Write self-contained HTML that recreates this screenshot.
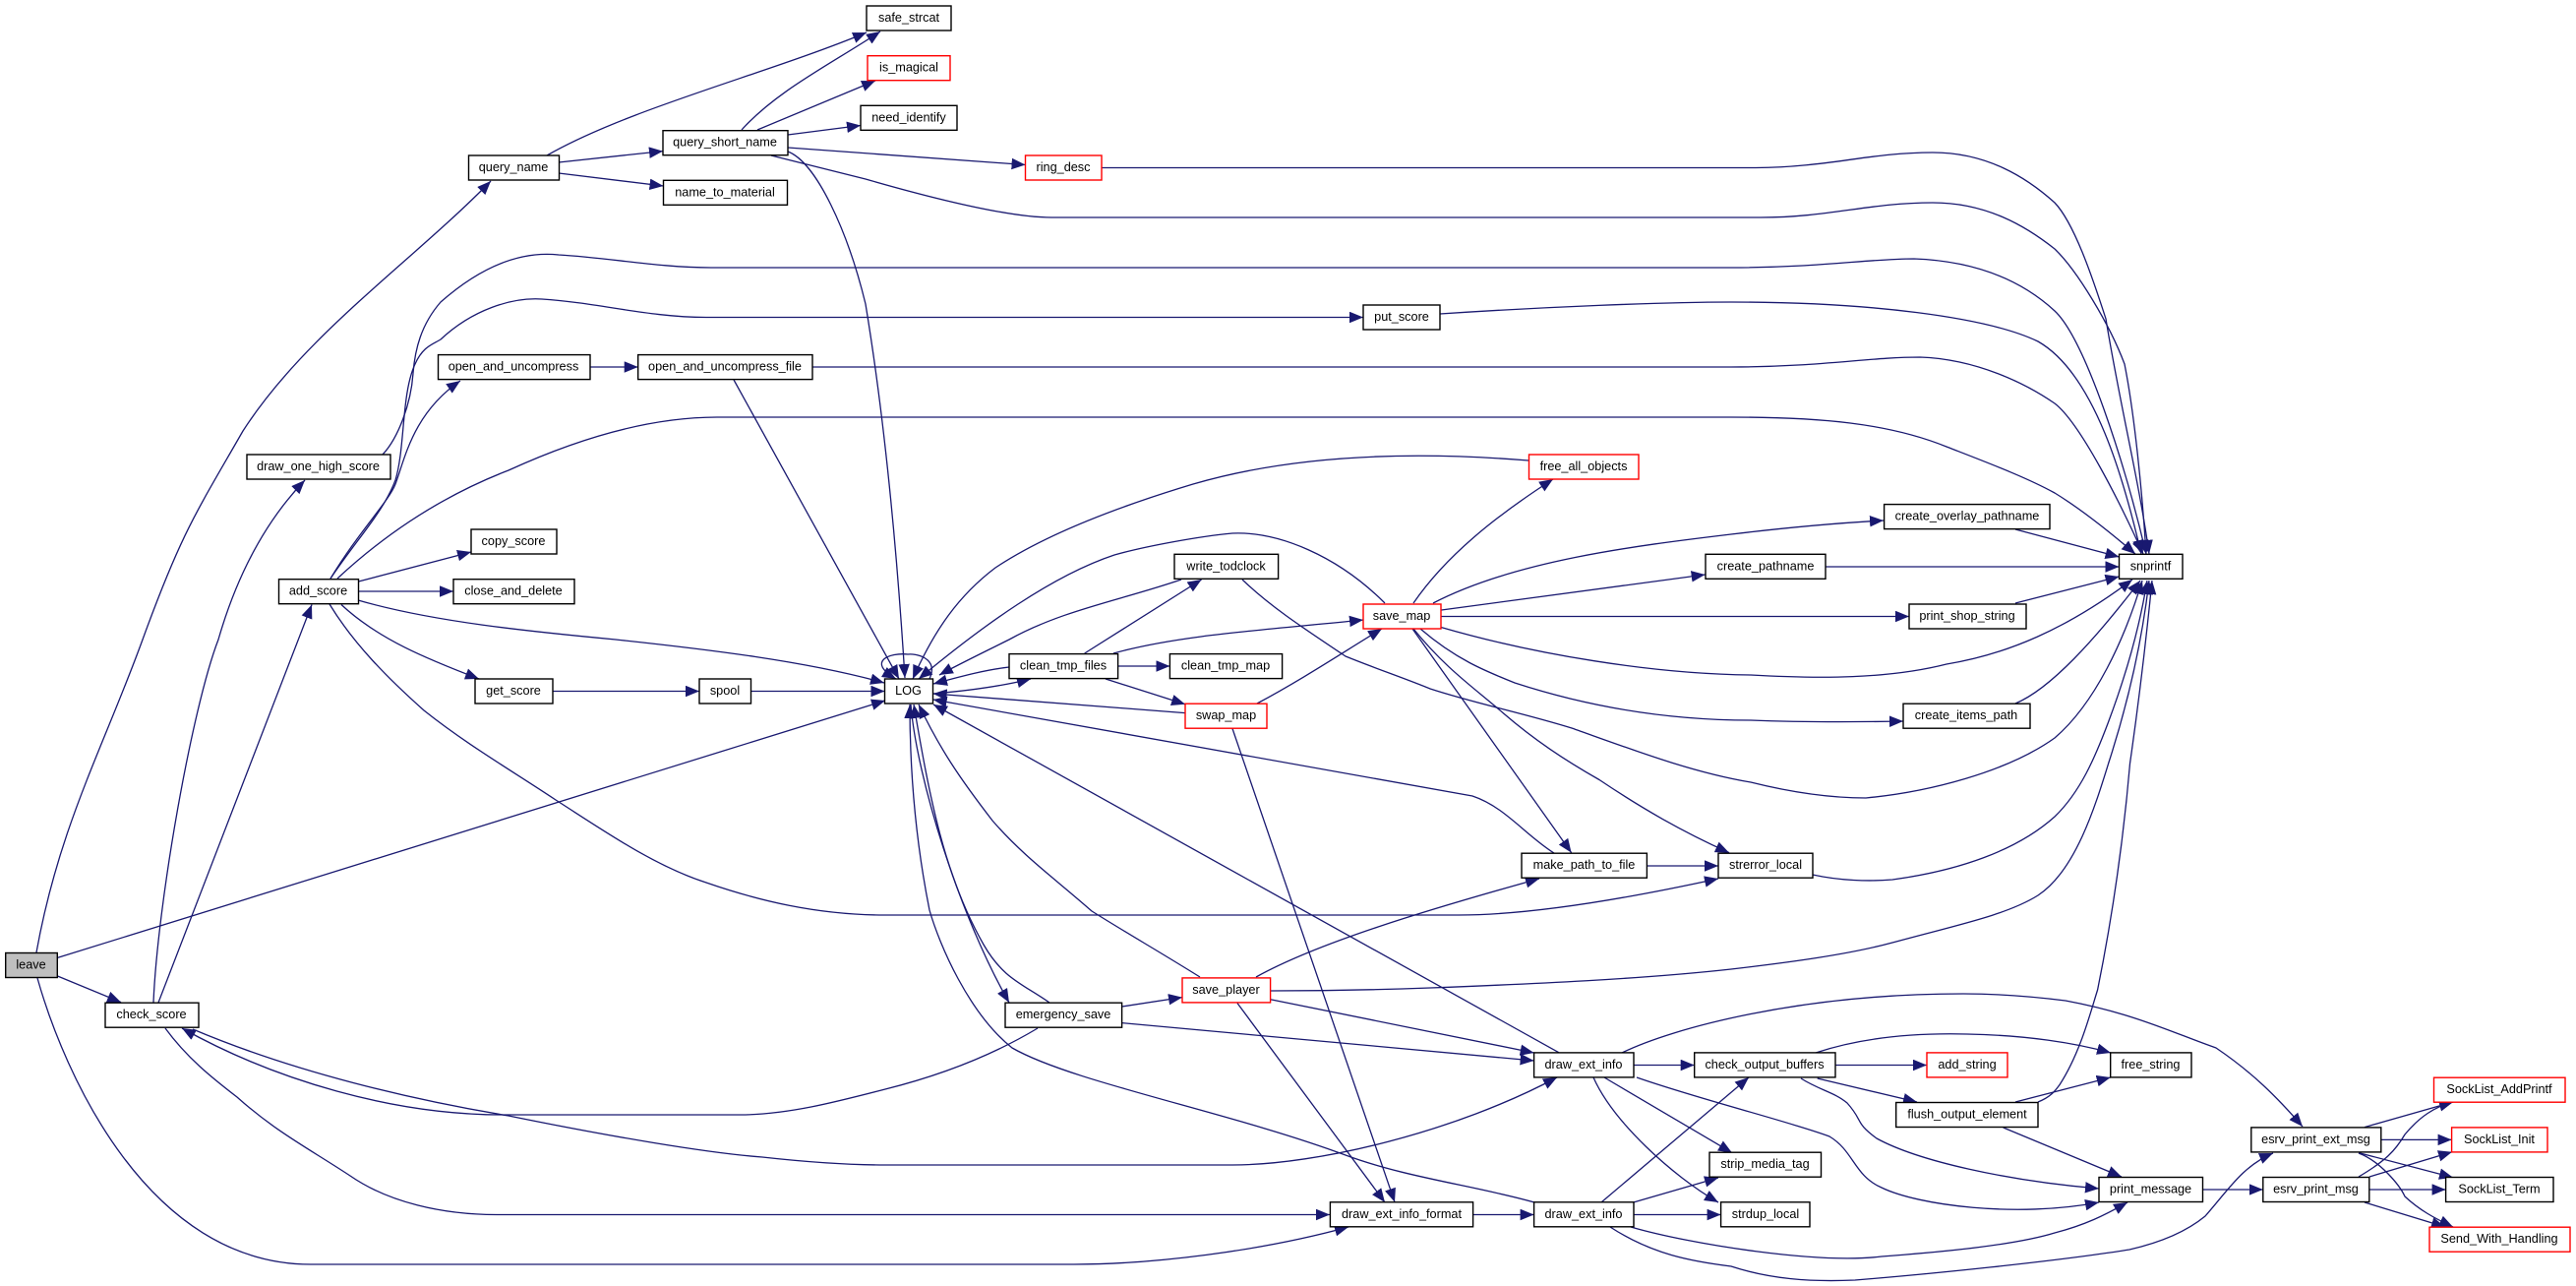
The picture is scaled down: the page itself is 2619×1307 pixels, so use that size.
<!DOCTYPE html>
<html><head><meta charset="utf-8"><style>html,body{margin:0;padding:0;background:#fff}svg{display:block;filter:blur(.3px)}</style></head>
<body>
<svg xmlns="http://www.w3.org/2000/svg" width="2619" height="1307" viewBox="0 0 2619 1307">
<defs><marker id="a" markerUnits="userSpaceOnUse" markerWidth="15" markerHeight="13" refX="14" refY="5.75" orient="auto"><path d="M0,0L14,5.75L0,11.5z" fill="#191970"/></marker></defs>
<g fill="none" stroke="#191970" stroke-width="1.3" marker-end="url(#a)">
<path d="M37,968C60,840 105,760 145,650S200,520 247,438C310,340 420,265 499,184"/>
<path d="M556,158C640,110 780,75 881,33"/>
<path d="M568,165L674,153.6"/>
<path d="M568,176L674.5,189"/>
<path d="M754,132C790,92 845,65 895,32"/>
<path d="M770,132L890,82"/>
<path d="M801,137L875,127.5"/>
<path d="M801,150L1042.5,167.5"/>
<path d="M784,158L880,182C960,205 1030,221 1069,221L1790,221C1860,221 1900,206 1965,206C2020,206 2060,230 2089,253C2112,275 2145,330 2160,370C2170,420 2178,500 2182,563"/>
<path d="M1120,170.5L1785,170.5C1860,170 1900,155 1965,155C2020,155 2060,180 2089,206C2110,228 2130,290 2141,324C2155,410 2175,490 2185,563"/>
<path d="M801,154C830,165 862,235 880,309C900,430 912,560 920,689"/>
<path d="M156,1019C160,920 195,720 222,650C235,605 260,540 310,488"/>
<path d="M389,462C405,445 418,410 420,379C422,355 428,330 448,307C490,270 530,255 568,259C620,262 670,272 723,272L1760,272C1850,272 1900,263 1946,263C2000,265 2050,280 2089,316C2120,345 2160,470 2182,563"/>
<path d="M336,588C365,545 390,520 402,488C412,455 408,400 422,370C430,352 440,350 448,345C480,315 520,302 551,304C610,308 660,322.5 718,322.5L1386,322.5"/>
<path d="M336,588C365,540 395,510 402,492C412,465 420,420 468,387"/>
<path d="M343,588C400,535 460,500 517,478C600,440 670,424 729,424L1760,424C1850,424 1920,430 1979,454C2020,470 2060,485 2089,501C2120,520 2150,545 2171,563"/>
<path d="M364.5,591L479,561"/>
<path d="M364.5,601L461,601"/>
<path d="M364,610C440,632 540,642 626,650C720,660 820,672 899,694"/>
<path d="M347,614.5C385,650 435,670 487,690"/>
<path d="M335,614C360,655 395,690 431,722C475,757 520,783 565,813C615,845 665,880 718,897C770,915 830,930 900,930L1483,930C1560,930 1660,912 1747,893"/>
<path d="M58.5,973.4L900,712"/>
<path d="M58.5,992L123,1018.6"/>
<path d="M161,1019L317,614.5"/>
<path d="M196,1046C300,1090 420,1118 517,1134C620,1155 720,1172 775,1176C820,1181 860,1184 900,1184L1253,1184C1340,1184 1480,1150 1583,1095"/>
<path d="M1055,1045C1010,1072 960,1092 900,1107C850,1120 800,1133 752,1133L511,1133C400,1133 280,1098 185,1045"/>
<path d="M168,1045C190,1075 215,1095 241,1115C280,1150 315,1168 356,1195C395,1222 450,1234.5 505,1234.5L1352,1234.5"/>
<path d="M38,994C65,1090 150,1285 316,1285L1092,1285C1170,1285 1280,1272 1371,1247"/>
<path d="M600,373L648.7,373"/>
<path d="M826,373L1760,373C1850,373 1900,363 1952,363C2010,365 2060,390 2089,410C2115,430 2155,510 2179,563"/>
<path d="M746,386L914,690"/>
<path d="M1464,319C1570,312 1690,307 1760,307C1900,307 2020,322 2072,347C2130,380 2160,490 2177,563"/>
<path d="M2049,538L2154.5,566"/>
<path d="M1856,576L2154.5,576"/>
<path d="M2049,613L2154.5,586"/>
<path d="M2049,715C2085,700 2130,650 2176,590"/>
<path d="M1408,613C1360,565 1300,540 1253,542C1220,545 1165,555 1133,564C1070,585 1000,635 934,690"/>
<path d="M1437,613C1470,565 1520,525 1579,487"/>
<path d="M1554,468C1480,462 1340,455 1213,492C1130,517 1060,545 1012,577C975,605 950,640 928,690"/>
<path d="M1457,613C1540,570 1660,555 1760,543C1810,537 1860,532 1915,529"/>
<path d="M1465.5,620L1733.6,584"/>
<path d="M1465,626.5L1941,626.5"/>
<path d="M1444,639C1480,670 1510,682 1540,694C1620,720 1700,732 1780,732C1830,734 1880,734 1935,733"/>
<path d="M1465.5,637.6C1560,665 1680,685 1780,686C1850,690 1920,690 1979,675C2040,665 2100,640 2168,589"/>
<path d="M1263,589C1290,615 1320,635 1368,667C1400,680 1430,690 1454,700C1500,715 1550,725 1598,740C1660,762 1720,785 1780,795C1820,805 1860,811 1897,811C1960,805 2040,785 2089,750C2130,715 2160,650 2178,590"/>
<path d="M1843,889C1870,895 1900,896 1924,894C1990,885 2050,865 2089,830C2115,805 2130,770 2143.5,734C2160,690 2175,640 2183,590"/>
<path d="M1291.6,1007C1350,1007 1400,1006 1454,1004C1560,1000 1670,995 1760,985C1820,978 1880,970 1924,958C1990,940 2040,930 2072,910C2110,885 2130,820 2143.6,776C2165,710 2178,650 2185,590"/>
<path d="M2072,1120C2085,1115 2090,1108 2094,1102.5C2115,1070 2125,1030 2132.6,1006C2150,920 2160,840 2165.5,776C2175,710 2182,650 2188,590"/>
<path d="M1436,639L1597.6,866.6"/>
<path d="M1437,639C1470,680 1500,700 1528.6,725C1560,752 1590,772 1626,792.5C1670,822 1710,845 1758,866.6"/>
<path d="M1278,715C1325,690 1370,660 1405,639"/>
<path d="M1132,664C1200,645 1290,640 1386,630"/>
<path d="M1102.7,664L1221.6,589"/>
<path d="M1201,589C1140,610 1080,620 1026,650C1000,663 975,675 955,686"/>
<path d="M1026,678C1000,681 975,688 949,695"/>
<path d="M949,705C985,702 1020,697 1048,690"/>
<path d="M1136.6,677L1189.4,677"/>
<path d="M1124,690L1205,715.8"/>
<path d="M1205,724.6L948.7,705"/>
<path d="M1253,740.5L1418,1221.8"/>
<path d="M1580,867C1550,848 1530,820 1497,809L948.7,711"/>
<path d="M1674.4,880L1747,880"/>
<path d="M1277,993C1340,958 1450,925 1565,893"/>
<path d="M1220,993C1180,968 1145,948 1110,926C1075,895 1040,870 1009,834C975,790 955,760 934,716"/>
<path d="M1291.6,1015.7L1559.6,1070"/>
<path d="M1258,1019.5L1408,1222"/>
<path d="M1140.6,1023L1202,1013.6"/>
<path d="M1140.6,1039.6L1559.6,1078"/>
<path d="M1067,1019C1040,1000 1020,995 1000,960C960,890 945,810 929,716"/>
<path d="M926,716C932,790 975,930 1026,1019"/>
<path d="M1585,1069.8L949,716"/>
<path d="M1560,1222C1500,1205 1430,1197 1368,1174C1250,1130 1090,1100 1029,1065C985,1030 955,960 945,925C930,850 925,780 925,716"/>
<path d="M1497.6,1234.5L1559.6,1234.5"/>
<path d="M1661,1082.5L1722.7,1082.5"/>
<path d="M1649,1070C1700,1045 1830,1010 1996,1010C2030,1010 2060,1012 2100,1017C2170,1030 2210,1050 2253,1065C2290,1090 2315,1115 2341,1145"/>
<path d="M1664,1095C1730,1118 1820,1140 1860,1155C1885,1170 1885,1195 1913,1207C1950,1225 2050,1238 2134,1222"/>
<path d="M1631,1095L1761,1171.6"/>
<path d="M1620,1095C1640,1140 1700,1195 1747,1222"/>
<path d="M1628,1222L1778,1095"/>
<path d="M1660.7,1222L1747,1197"/>
<path d="M1661,1234.5L1749.6,1234.5"/>
<path d="M1658,1247C1720,1265 1850,1285 1913,1277C1980,1272 2050,1265 2089,1253C2120,1245 2140,1235 2163,1222"/>
<path d="M1637,1247C1680,1275 1720,1282 1760,1287C1800,1300 1840,1303 1886,1301C1960,1295 2090,1282 2165,1270C2200,1262 2225,1250 2242,1236C2265,1210 2280,1185 2311,1172"/>
<path d="M1846,1070C1900,1052 1960,1050 2000,1051C2060,1052 2110,1060 2146,1070"/>
<path d="M1866,1082.5L1959,1082.5"/>
<path d="M1847.7,1096L1949,1120"/>
<path d="M1831,1096C1850,1108 1865,1110 1878,1121C1895,1140 1885,1140 1908,1157C1950,1180 2040,1200 2134,1208"/>
<path d="M2049,1120L2145.7,1095"/>
<path d="M2036.7,1146L2157,1196"/>
<path d="M2239.5,1209L2300.8,1209"/>
<path d="M2404,1145.6L2494,1120"/>
<path d="M2420.8,1158.4L2492.6,1158.4"/>
<path d="M2398,1171.6L2494,1196.7"/>
<path d="M2398,1172C2420,1180 2440,1205 2445,1216C2460,1230 2475,1238 2494,1247"/>
<path d="M2398,1196C2425,1180 2435,1170 2445,1153C2460,1135 2475,1125 2494,1120"/>
<path d="M2409,1196L2493,1170.7"/>
<path d="M2408.8,1209L2486.6,1209"/>
<path d="M2404,1222L2486,1247"/>
<path d="M945,690C955,668 930,664 923,665C905,663 880,672 911,690"/>
<path d="M562,702.5L711,702.5"/>
<path d="M763.5,702.5L899.5,702.5"/>
</g>
<g fill="#fff" stroke="#000" stroke-width="1.4">
<rect x="476.5" y="158" width="92" height="25"/>
<rect x="674" y="132.7" width="127" height="25"/>
<rect x="674.5" y="183.3" width="126" height="25"/>
<rect x="881" y="6" width="86" height="25"/>
<rect x="875" y="107.3" width="98" height="25"/>
<rect x="1386" y="310" width="78" height="25"/>
<rect x="445.5" y="360.6" width="154.5" height="25"/>
<rect x="648.7" y="360.6" width="177.3" height="25"/>
<rect x="251" y="462" width="146" height="25"/>
<rect x="479" y="538" width="87" height="25"/>
<rect x="1915.6" y="512.6" width="168.4" height="25"/>
<rect x="1194" y="563.3" width="105.6" height="25"/>
<rect x="1734" y="563.3" width="122" height="25"/>
<rect x="2154.5" y="563.3" width="64.5" height="25"/>
<rect x="283.5" y="588.7" width="81" height="25"/>
<rect x="461" y="588.7" width="123" height="25"/>
<rect x="1941" y="614" width="119" height="25"/>
<rect x="1026" y="664.6" width="110.6" height="25"/>
<rect x="1189.4" y="664.6" width="114.2" height="25"/>
<rect x="483" y="690" width="79" height="25"/>
<rect x="711" y="690" width="52.5" height="25"/>
<rect x="899.5" y="690" width="49" height="25"/>
<rect x="1935" y="715.2" width="129" height="25"/>
<rect x="1547" y="867.2" width="127.4" height="25"/>
<rect x="1747" y="867.2" width="96" height="25"/>
<rect x="5.7" y="968.5" width="52.6" height="25" fill="#bfbfbf"/>
<rect x="107" y="1019.2" width="95" height="25"/>
<rect x="1022" y="1019.2" width="118.6" height="25"/>
<rect x="1559.6" y="1069.9" width="101.4" height="25"/>
<rect x="1722.7" y="1069.9" width="143.3" height="25"/>
<rect x="2145.7" y="1069.9" width="82.3" height="25"/>
<rect x="1927.7" y="1120.5" width="144.3" height="25"/>
<rect x="2288.8" y="1145.9" width="132" height="25"/>
<rect x="1738" y="1171.2" width="113.5" height="25"/>
<rect x="2134" y="1196.5" width="105.5" height="25"/>
<rect x="2300.8" y="1196.5" width="108" height="25"/>
<rect x="2486.6" y="1196.5" width="109.4" height="25"/>
<rect x="1352.4" y="1221.8" width="145.2" height="25"/>
<rect x="1559.6" y="1221.8" width="101.4" height="25"/>
<rect x="1749.6" y="1221.8" width="90.4" height="25"/>
</g>
<g fill="#fff" stroke="#f00" stroke-width="1.4">
<rect x="882" y="56.7" width="84" height="25"/>
<rect x="1042.5" y="158" width="77.5" height="25"/>
<rect x="1554.5" y="462" width="111.5" height="25"/>
<rect x="1386" y="614" width="79" height="25"/>
<rect x="1205" y="715.2" width="83" height="25"/>
<rect x="1202" y="993.9" width="89.6" height="25"/>
<rect x="1959" y="1069.9" width="82" height="25"/>
<rect x="2474.5" y="1095.2" width="133.5" height="25"/>
<rect x="2492.6" y="1145.9" width="97.4" height="25"/>
<rect x="2470" y="1247.2" width="143" height="25"/>
</g>
<g font-family="'Liberation Sans',sans-serif" font-size="12.7" fill="#000" text-anchor="middle">
<text x="522" y="174">query_name</text>
<text x="737" y="148.7">query_short_name</text>
<text x="737" y="199.3">name_to_material</text>
<text x="924" y="22">safe_strcat</text>
<text x="924" y="72.7">is_magical</text>
<text x="924" y="123.3">need_identify</text>
<text x="1081" y="174">ring_desc</text>
<text x="1425" y="326">put_score</text>
<text x="522" y="376.6">open_and_uncompress</text>
<text x="737" y="376.6">open_and_uncompress_file</text>
<text x="323.5" y="478">draw_one_high_score</text>
<text x="1610" y="478">free_all_objects</text>
<text x="522" y="554">copy_score</text>
<text x="2000" y="528.6">create_overlay_pathname</text>
<text x="1246.5" y="579.3">write_todclock</text>
<text x="1795" y="579.3">create_pathname</text>
<text x="2186.5" y="579.3">snprintf</text>
<text x="323.5" y="604.7">add_score</text>
<text x="522" y="604.7">close_and_delete</text>
<text x="1425" y="630">save_map</text>
<text x="2000" y="630">print_shop_string</text>
<text x="1081" y="680.6">clean_tmp_files</text>
<text x="1246" y="680.6">clean_tmp_map</text>
<text x="522" y="706">get_score</text>
<text x="737" y="706">spool</text>
<text x="923.5" y="706">LOG</text>
<text x="1246.5" y="731.2">swap_map</text>
<text x="1999" y="731.2">create_items_path</text>
<text x="1610.5" y="883.2">make_path_to_file</text>
<text x="1795" y="883.2">strerror_local</text>
<text x="31.5" y="984.5">leave</text>
<text x="1246.5" y="1009.9">save_player</text>
<text x="154" y="1035.2">check_score</text>
<text x="1081" y="1035.2">emergency_save</text>
<text x="1610" y="1085.9">draw_ext_info</text>
<text x="1794" y="1085.9">check_output_buffers</text>
<text x="2000" y="1085.9">add_string</text>
<text x="2186.5" y="1085.9">free_string</text>
<text x="2541" y="1111.2">SockList_AddPrintf</text>
<text x="2000" y="1136.5">flush_output_element</text>
<text x="2354.5" y="1161.9">esrv_print_ext_msg</text>
<text x="2541" y="1161.9">SockList_Init</text>
<text x="1794.5" y="1187.2">strip_media_tag</text>
<text x="2186.5" y="1212.5">print_message</text>
<text x="2354.5" y="1212.5">esrv_print_msg</text>
<text x="2541" y="1212.5">SockList_Term</text>
<text x="1425" y="1237.8">draw_ext_info_format</text>
<text x="1610" y="1237.8">draw_ext_info</text>
<text x="1795" y="1237.8">strdup_local</text>
<text x="2541" y="1263.2">Send_With_Handling</text>
</g>
</svg>
</body></html>
